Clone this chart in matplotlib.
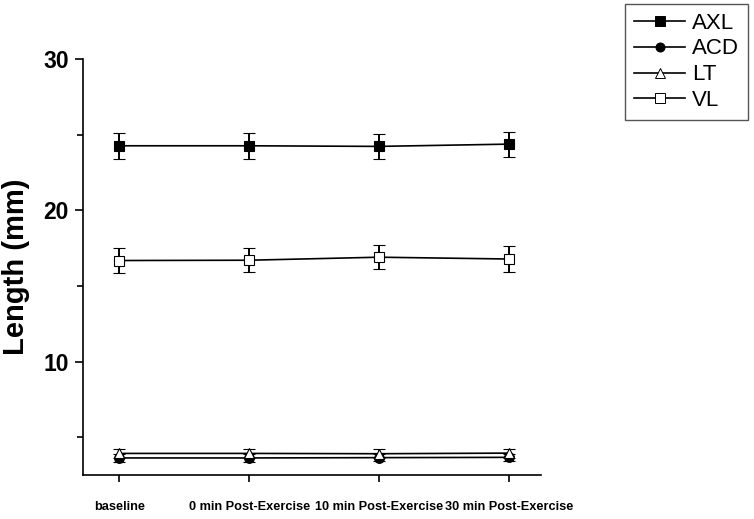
import matplotlib.pyplot as plt
from matplotlib.lines import Line2D
from matplotlib.ticker import MultipleLocator
from matplotlib import font_manager

plt.rcParams['font.family'] = ['Liberation Sans', 'DejaVu Sans']

timepoints = ["baseline", "0 min Post-Exercise", "10 min Post-Exercise", "30 min Post-Exercise"]

axl = [24.27, 24.27, 24.23, 24.38]
axl_sd = [0.85, 0.85, 0.82, 0.82]
acd = [3.62, 3.62, 3.64, 3.66]
acd_sd = [0.25, 0.25, 0.25, 0.25]
lt = [3.92, 3.92, 3.90, 3.94]
lt_sd = [0.3, 0.3, 0.3, 0.3]
vl = [16.68, 16.70, 16.90, 16.78]
vl_sd = [0.81, 0.80, 0.80, 0.83]

series = [
    ("AXL", axl, axl_sd, "s", "black"),
    ("ACD", acd, acd_sd, "o", "black"),
    ("LT", lt, lt_sd, "^", "white"),
    ("VL", vl, vl_sd, "s", "white"),
]

# pick a narrow font for the x labels if one is installed
names = {f.name for f in font_manager.fontManager.ttflist}
narrow = None
for cand in ["Liberation Sans Narrow", "Arial Narrow", "DejaVu Sans Condensed"]:
    if cand in names:
        narrow = cand
        break
if narrow:
    xfam, xsize = [narrow, 'Liberation Sans'], 11
else:
    xfam, xsize = ['Liberation Sans'], 9.2

fig = plt.figure(figsize=(7.54, 5.19), dpi=100)
ax = fig.add_axes([0.110, 0.085, 0.608, 0.801])

x = list(range(len(timepoints)))
handles = []
for name, vals, sd, mk, fc in series:
    ax.errorbar(x, vals, yerr=sd, marker=mk, markersize=7, markerfacecolor=fc,
                markeredgecolor="black", markeredgewidth=0.8, color="black",
                linewidth=1.2, elinewidth=1.4, capsize=4, capthick=1.4)
    handles.append(Line2D([], [], marker=mk, markersize=6.5, markerfacecolor=fc,
                          markeredgecolor="black", markeredgewidth=0.7,
                          color="black", linewidth=1.2, label=name))

ax.set_xlim(-0.28, 3.25)
ax.set_ylim(2.5, 30)
ax.yaxis.set_major_locator(MultipleLocator(10))
ax.yaxis.set_minor_locator(MultipleLocator(5))
ax.set_xticks(x)
ax.set_xticklabels(timepoints, fontsize=xsize, fontweight="bold", family=xfam)
for t in ax.get_yticklabels():
    t.set_fontsize(16.5)
    t.set_fontweight("bold")
ax.set_ylabel("Length (mm)", fontsize=21, fontweight="bold", labelpad=10)

ax.spines["top"].set_visible(False)
ax.spines["right"].set_visible(False)
ax.spines["left"].set_linewidth(1.2)
ax.spines["bottom"].set_linewidth(1.2)
ax.tick_params(axis="y", which="major", direction="out", length=6, width=1.2, pad=4)
ax.tick_params(axis="y", which="minor", direction="out", length=4, width=1.2)
ax.tick_params(axis="x", which="major", direction="out", length=5, width=1.2, pad=14)

leg = fig.legend(handles=handles, loc="upper right", bbox_to_anchor=(0.992, 0.993),
                 fontsize=16, fancybox=False, framealpha=1, edgecolor="#555555",
                 handlelength=2.3, handletextpad=0.3, borderpad=0.4,
                 labelspacing=0.22, borderaxespad=0)
leg.get_frame().set_linewidth(1.0)

fig.savefig("out.png", dpi=100)
